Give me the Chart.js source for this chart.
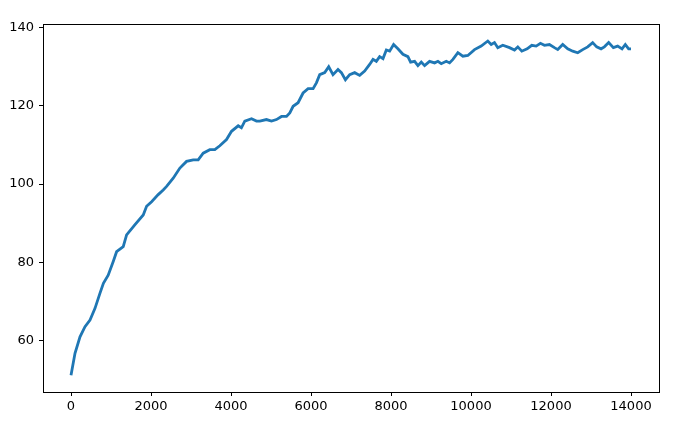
<!DOCTYPE html>
<html>
<head>
<meta charset="utf-8">
<script src="https://cdn.jsdelivr.net/npm/chart.js@4/dist/chart.umd.min.js"></script>
<style>
html,body{margin:0;padding:0;background:#fff;}
#wrap{width:683px;height:427px;position:relative;}
</style>
</head>
<body>
<div id="wrap"><canvas id="c" width="683" height="427"></canvas></div>
<script>
const steps = [0,100,225,350,475,600,725,810,930,1056,1140,1306,1390,1600,1806,1890,2015,2180,2305,2390,2555,2722,2889,3055,3180,3305,3470,3596,3720,3888,4013,4180,4260,4345,4513,4637,4720,4886,5012,5137,5262,5387,5470,5553,5677,5802,5927,6052,6135,6218,6343,6443,6550,6675,6760,6860,6967,7092,7217,7341,7466,7550,7633,7716,7800,7883,7966,8065,8173,8298,8423,8490,8590,8673,8757,8840,8964,9090,9173,9256,9382,9464,9548,9672,9797,9921,10088,10255,10420,10505,10587,10670,10795,10962,11087,11170,11270,11404,11520,11629,11736,11836,11961,12086,12169,12293,12418,12543,12668,12793,12917,13042,13142,13251,13334,13442,13559,13667,13776,13858,13941,14000];
const rewards = [51.1,56.7,60.9,63.5,65.2,68.2,72.1,74.6,76.7,80.2,82.7,84.0,87.0,89.6,92.1,94.3,95.5,97.3,98.5,99.4,101.5,104.1,105.8,106.2,106.2,107.9,108.8,108.8,109.8,111.4,113.5,114.9,114.4,116.1,116.7,116.1,116.1,116.5,116.1,116.5,117.3,117.3,118.2,119.9,120.8,123.3,124.4,124.4,125.9,128.0,128.5,130.0,128.0,129.3,128.5,126.7,128.0,128.5,127.8,128.9,130.6,131.9,131.4,132.6,132.1,134.3,134.0,135.7,134.6,133.2,132.6,131.2,131.4,130.3,131.2,130.3,131.4,131.0,131.4,130.8,131.4,131.0,131.9,133.6,132.7,132.9,134.4,135.3,136.6,135.7,136.2,134.9,135.5,134.9,134.3,135.1,134.0,134.6,135.5,135.3,136.0,135.5,135.7,134.9,134.4,135.7,134.6,134.0,133.6,134.4,135.1,136.2,135.1,134.6,135.1,136.2,134.9,135.3,134.6,135.7,134.6,134.6];
const xTicks = [0,2000,4000,6000,8000,10000,12000,14000];
const yTicks = [60,80,100,120,140];

const framePlugin = {
  id: 'frame',
  afterDraw(chart) {
    const {ctx, chartArea: a} = chart;
    ctx.save();
    ctx.strokeStyle = '#000';
    ctx.lineWidth = 1;
    ctx.strokeRect(Math.round(a.left)+0.5, Math.round(a.top)+0.5, Math.round(a.right-a.left), Math.round(a.bottom-a.top));
    ctx.restore();
  }
};

new Chart(document.getElementById('c'), {
  type: 'line',
  data: {
    datasets: [{
      data: steps.map((s,i)=>({x:s, y:rewards[i]})),
      borderColor: '#1f77b4',
      borderWidth: 2.8,
      pointRadius: 0,
      tension: 0,
      fill: false
    }]
  },
  options: {
    responsive: false,
    animation: false,
    devicePixelRatio: 1,
    layout: { padding: { top: 24, right: 24, left: 0, bottom: 0 } },
    plugins: { legend: { display: false }, tooltip: { enabled: false } },
    scales: {
      x: {
        type: 'linear',
        min: -700, max: 14700,
        afterBuildTicks: s => { s.ticks = xTicks.map(v=>({value:v})); },
        afterFit: s => { s.height = 35; },
        grid: { display: true, drawOnChartArea: false, drawTicks: true, tickLength: 4, color: '#000', tickColor: '#000' },
        border: { display: true, color: '#000', width: 1 },
        ticks: { color: '#000', font: { family: 'DejaVu Sans', size: 13 }, padding: 3, maxRotation: 0, autoSkip: false, callback: v => String(v) }
      },
      y: {
        type: 'linear',
        min: 46.8, max: 140.95,
        afterBuildTicks: s => { s.ticks = yTicks.map(v=>({value:v})); },
        afterFit: s => { s.width = 43; },
        grid: { display: true, drawOnChartArea: false, drawTicks: true, tickLength: 4, color: '#000', tickColor: '#000' },
        border: { display: true, color: '#000', width: 1 },
        ticks: { color: '#000', font: { family: 'DejaVu Sans', size: 13 }, padding: 5, autoSkip: false, callback: v => String(v) }
      }
    }
  },
  plugins: [framePlugin]
});
</script>
</body>
</html>
